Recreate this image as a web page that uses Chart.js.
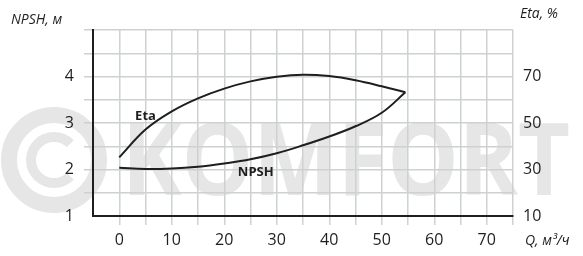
<!DOCTYPE html>
<html>
<head>
<meta charset="utf-8">
<script src="https://cdn.jsdelivr.net/npm/chart.js@4.4.1/dist/chart.umd.min.js"></script>
<style>
  html, body { margin: 0; padding: 0; background: #fff; }
  #wrap { position: relative; width: 583px; height: 256px; }
</style>
</head>
<body>
<div id="wrap"><canvas id="chart" width="583" height="256"></canvas></div>
<script>
// ─── data ──────────────────────────────────────────────────────────────────
const qValues    = [0, 5, 10, 15, 20, 25, 30, 35, 40, 45, 50, 54.5];
const npshValues = [2.04, 2.01, 2.02, 2.06, 2.13, 2.22, 2.35, 2.52, 2.71, 2.93, 3.22, 3.66];
const etaValues  = [35.2, 47.2, 55.0, 60.6, 64.8, 67.9, 69.9, 70.8, 70.2, 68.4, 65.8, 63.2];

const xLabels    = [0, 10, 20, 30, 40, 50, 60, 70];
const npshLabels = [1, 2, 3, 4];
const etaLabels  = [10, 30, 50, 70];

const FONT  = '"Open Sans", sans-serif';
const INK   = '#1e1e1e';
const GRID  = '#cdd1d1';
const WMARK = '#e6e6e6';

const toXY = (xs, ys) => xs.map((x, i) => ({ x, y: ys[i] }));

/** Big light "©KOMFORT" watermark behind everything. */
const watermark = {
  id: 'watermark',
  beforeDraw(chart) {
    const ctx = chart.ctx;
    ctx.save();
    ctx.strokeStyle = WMARK;
    ctx.fillStyle = WMARK;
    // copyright ring
    ctx.lineWidth = 16;
    ctx.beginPath();
    ctx.arc(54, 160, 45, 0, Math.PI * 2);
    ctx.stroke();
    ctx.lineWidth = 10;
    ctx.beginPath();
    ctx.arc(54, 160, 23, Math.PI * 0.25, Math.PI * 1.75);
    ctx.stroke();
    // letters, squeezed to span x 128..567
    ctx.font = `bold 101px ${FONT}`;
    ctx.textBaseline = 'alphabetic';
    const w = ctx.measureText('KOMFORT').width;
    ctx.translate(122, 195);
    ctx.scale(448 / w, 1);
    ctx.fillText('KOMFORT', 0, 0);
    ctx.restore();
  },
};

/** Axis titles and curve labels. */
const labels = {
  id: 'labels',
  afterDraw(chart) {
    const { ctx, scales } = chart;
    ctx.save();
    ctx.fillStyle = INK;
    ctx.textBaseline = 'middle';
    ctx.font = `italic 14px ${FONT}`;
    ctx.textAlign = 'left';
    ctx.fillText('NPSH, м', 11, 20);
    ctx.fillText('Eta, %', 520, 14);
    ctx.fillText('Q, м³/ч', 525, 241);
    ctx.font = `bold 13px ${FONT}`;
    ctx.textAlign = 'center';
    ctx.fillText('Eta', scales.x.getPixelForValue(5), scales.y1.getPixelForValue(53));
    ctx.fillText('NPSH', scales.x.getPixelForValue(26), scales.y.getPixelForValue(1.95));
    ctx.restore();
  },
};

new Chart(document.getElementById('chart'), {
  type: 'line',
  data: {
    datasets: [
      {
        label: 'NPSH', data: toXY(qValues, npshValues), yAxisID: 'y',
        borderColor: INK, borderWidth: 2, pointRadius: 0, tension: 0.4,
      },
      {
        label: 'Eta', data: toXY(qValues, etaValues), yAxisID: 'y1',
        borderColor: INK, borderWidth: 2, pointRadius: 0, tension: 0.4,
      },
    ],
  },
  options: {
    responsive: false,
    animation: false,
    devicePixelRatio: 1,
    layout: { padding: { top: 30, left: 0, right: 0, bottom: 0 } },
    plugins: { legend: { display: false }, tooltip: { enabled: false } },
    scales: {
      x: {
        type: 'linear', min: -5, max: 75,
        afterFit: s => { s.height = 40; },
        border: { color: INK, width: 2 },
        grid: {
          color: GRID, lineWidth: 1.5, tickLength: 9,
          tickColor: c => (c.tick && c.tick.value === -5 ? 'rgba(0,0,0,0)' : GRID),
        },
        ticks: {
          stepSize: 5, autoSkip: false, maxRotation: 0, padding: 6,
          color: INK, font: { family: FONT, size: 16 },
          callback: v => (xLabels.includes(v) ? v : ''),
        },
      },
      y: {
        position: 'left', min: 1, max: 5,
        afterFit: s => { s.width = 93; },
        border: { color: INK, width: 2 },
        grid: {
          color: GRID, lineWidth: 1.5, tickLength: 9,
          tickColor: c => (c.tick && c.tick.value === 1 ? 'rgba(0,0,0,0)' : GRID),
        },
        ticks: {
          stepSize: 0.5, autoSkip: false, padding: 10,
          color: INK, font: { family: FONT, size: 16 },
          callback: v => (npshLabels.includes(v) ? v : ''),
        },
      },
      y1: {
        position: 'right', min: 10, max: 90,
        afterFit: s => { s.width = 70; },
        border: { display: false },
        grid: { drawOnChartArea: false, drawTicks: false },
        ticks: {
          stepSize: 10, autoSkip: false, padding: 10,
          color: INK, font: { family: FONT, size: 16 },
          callback: v => (etaLabels.includes(v) ? v : ''),
        },
      },
    },
  },
  plugins: [watermark, labels],
});
</script>
</body>
</html>
